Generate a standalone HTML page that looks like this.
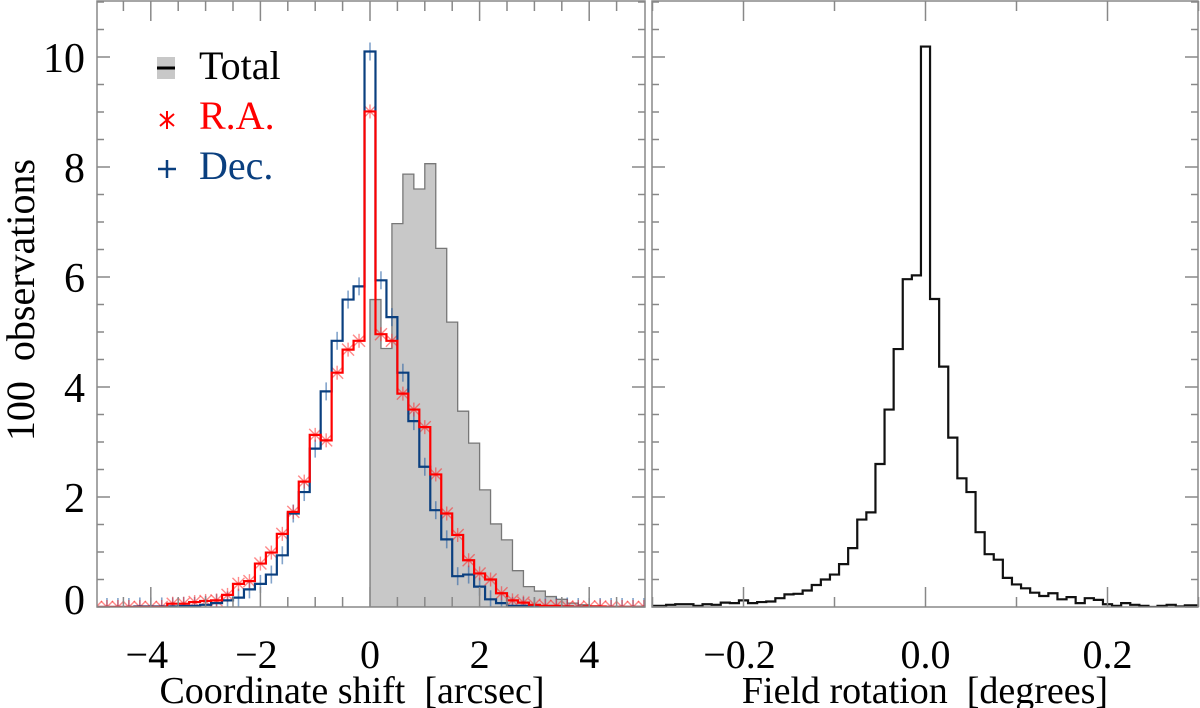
<!DOCTYPE html>
<html><head><meta charset="utf-8"><style>
html,body{margin:0;padding:0;background:#fff;width:1200px;height:708px;overflow:hidden}
svg{display:block;font-family:"Liberation Serif",serif}
</style></head><body>
<svg id="chart" width="1200" height="708" viewBox="0 0 1200 708" xmlns="http://www.w3.org/2000/svg">
<defs><clipPath id="clipL"><rect x="97" y="1" width="548" height="606"/></clipPath>
<clipPath id="clipR"><rect x="652" y="1" width="546" height="606"/></clipPath></defs>
<g id="gL" clip-path="url(#clipL)"></g>
<g id="gR" clip-path="url(#clipR)"></g>
<g id="axes"></g>
<g>
  <rect x="157" y="57" width="18" height="22" fill="#c8c8c8"/>
  <line x1="157" y1="68" x2="175" y2="68" stroke="#000" stroke-width="3"/>
  <text x="199" y="79" font-size="40" fill="#000">Total</text>
  <g stroke="#ff0000" stroke-width="2">
    <line x1="160" y1="114" x2="174" y2="126"/><line x1="174" y1="114" x2="160" y2="126"/><line x1="167" y1="111" x2="167" y2="129"/></g>
  <text x="199" y="129" font-size="40" fill="#ff0000">R.A.</text>
  <g stroke="#0a3f7f" stroke-width="2.5">
    <line x1="158" y1="169" x2="176" y2="169"/><line x1="167" y1="160" x2="167" y2="178"/></g>
  <text x="199" y="179" font-size="40" fill="#0a3f7f">Dec.</text>
</g>
<text x="352" y="703" font-size="38" text-anchor="middle" xml:space="preserve">Coordinate shift  [arcsec]</text>
<text x="925" y="703" font-size="38" text-anchor="middle" xml:space="preserve">Field rotation  [degrees]</text>
<text transform="translate(34,300) rotate(-90)" font-size="40" text-anchor="middle" xml:space="preserve">100  observations</text>
</svg>
<script>
// Left panel: bins of width 0.2 centred on -5.0 ... 5.0
const leftBinStart = -5.1;
const leftBinWidth = 0.2;
const raValues = [0,0,0,0,0,0,0,
 0.06,0.06,0.09,0.11,0.12,0.22,0.42,0.47,0.79,0.99,1.33,1.73,2.28,3.13,3.03,4.26,4.68,4.84,
 9.01,
 4.96,4.84,3.88,3.59,3.27,2.41,1.70,1.31,0.85,0.61,0.50,0.25,0.12,0.08,0.04,0.02,0.02,0.01,0,0.01,0.01,0,0,0,0];
const decValues = [0,0,0,0,0.01,0.01,0.01,
 0.01,0.02,0.02,0.04,0.07,0.12,0.17,0.32,0.42,0.59,0.94,1.70,2.09,2.88,3.92,4.84,5.59,5.83,
 10.1,
 5.94,5.27,4.26,3.38,2.55,1.76,1.23,0.56,0.59,0.37,0.14,0.07,0.02,0.02,0.01,0.01,0.01,0.01,0,0,0,0,0,0,0];
// Total: bins of width 0.2 starting at 0
const totalBinStart = 0;
const totalValues = [5.59,4.70,6.97,7.87,7.60,8.06,6.52,5.18,3.56,2.98,2.13,1.51,1.22,0.66,0.37,0.29,0.19,0.14,0.07,0.04,0.02,0.01,0.01,0.01,0.01];
// Right panel: bins of width 0.01 centred on -0.30 ... 0.30
const rotBinStart = -0.305;
const rotBinWidth = 0.01;
const rotValues = [0.02,0.02,0.04,0.05,0.05,0.02,0.05,0.04,0.08,0.07,0.12,0.07,0.09,0.10,0.16,0.23,0.24,0.30,0.40,0.50,0.59,0.78,1.07,1.59,1.72,2.60,3.59,4.69,5.96,6.03,
 10.19,
 5.60,4.37,3.08,2.34,2.09,1.36,0.96,0.86,0.53,0.41,0.34,0.26,0.20,0.25,0.14,0.18,0.07,0.16,0.13,0.05,0.02,0.07,0.04,0.02,0.0,0.02,0.04,0.01,0.03,0.03];
const yTicks = [0,2,4,6,8,10];
const xTicksLeft = [-4,-2,0,2,4];
const xTicksRight = [-0.2,0.0,0.2];
const xTickLabelsRight = ["\u22120.2","0.0","0.2"];

const NS="http://www.w3.org/2000/svg";
const Y0=607, YS=55;
function y(v){return Y0-v*YS;}
function xL(v){return 370+v*54.8;}
function xR(v){return 925.5+v*910;}
function mk(tag,attrs,parent){const e=document.createElementNS(NS,tag);for(const k in attrs)e.setAttribute(k,attrs[k]);parent.appendChild(e);return e;}
function stepPath(vals,start,w,xf){
  let d="M"+xf(start)+","+Y0;
  vals.forEach((v,i)=>{const a=xf(start+i*w),b=xf(start+(i+1)*w);d+=" L"+a+","+y(v)+" L"+b+","+y(v);});
  d+=" L"+xf(start+vals.length*w)+","+Y0;return d;
}
const gL=document.getElementById('gL'), gR=document.getElementById('gR'), ax=document.getElementById('axes');

const tot=mk('path',{d:stepPath(totalValues,totalBinStart,leftBinWidth,xL)+" Z",fill:"#c8c8c8",stroke:"#777","stroke-width":1.3},gL);



decValues.forEach((v,i)=>{const cx=xL(leftBinStart+(i+0.5)*leftBinWidth),cy=y(v);
  const g=mk('g',{stroke:"rgba(30,90,160,0.55)","stroke-width":1.6},gL);
  
  
  mk('line',{x1:cx,y1:cy-9,x2:cx,y2:cy+9},g);mk('line',{x1:cx-5,y1:cy,x2:cx+5,y2:cy},g);});
raValues.forEach((v,i)=>{const cx=xL(leftBinStart+(i+0.5)*leftBinWidth),cy=y(v);
  const g=mk('g',{stroke:"rgba(255,40,40,0.55)","stroke-width":1.4},gL);
  
  
  mk('line',{x1:cx-6,y1:cy-6,x2:cx+6,y2:cy+6},g);mk('line',{x1:cx+6,y1:cy-6,x2:cx-6,y2:cy+6},g);mk('line',{x1:cx,y1:cy-7,x2:cx,y2:cy+7},g);});

const dec=mk('path',{d:stepPath(decValues,leftBinStart,leftBinWidth,xL),fill:"none",stroke:"#0a3f7f","stroke-width":2.2},gL);


const ra=mk('path',{d:stepPath(raValues,leftBinStart,leftBinWidth,xL),fill:"none",stroke:"#ff0000","stroke-width":2.2},gL);


const rot=mk('path',{d:stepPath(rotValues,rotBinStart,rotBinWidth,xR),fill:"none",stroke:"#111","stroke-width":2.2},gR);



[[97,645],[652,1198]].forEach((p,k)=>{const r=mk('rect',{x:p[0],y:1,width:p[1]-p[0],height:606,fill:"none",stroke:"#888","stroke-width":1.5},ax);
  
  });
const tk={stroke:"#888","stroke-width":1.5};
for(let v=0;v<=11;v+=0.5){const yy=y(v),maj=(v%2===0)?13:7;
  [97,652].forEach(x=>mk('line',Object.assign({x1:x,y1:yy,x2:x+maj,y2:yy},tk),ax));
  [645,1198].forEach(x=>mk('line',Object.assign({x1:x,y1:yy,x2:x-maj,y2:yy},tk),ax));}
for(let v=-4.5;v<=4.5;v+=0.5){const xx=xL(v),maj=(v%2===0)?20:10;
  mk('line',Object.assign({x1:xx,y1:607,x2:xx,y2:607-maj},tk),ax);mk('line',Object.assign({x1:xx,y1:1,x2:xx,y2:1+maj},tk),ax);}
[-0.3,-0.2,-0.1,0,0.1,0.2,0.3].forEach(v=>{const xx=xR(v),maj=(Math.abs(Math.round(v*10))%2===0)?20:10;
  mk('line',Object.assign({x1:xx,y1:607,x2:xx,y2:607-maj},tk),ax);mk('line',Object.assign({x1:xx,y1:1,x2:xx,y2:1+maj},tk),ax);});
yTicks.forEach(v=>{const t=mk('text',{x:85,y:y(v)+15-(v===0?8:0),"font-size":42,"text-anchor":"end"},ax);t.textContent=String(v);
  
  });
xTicksLeft.forEach(v=>{const t=mk('text',{x:xL(v)-(v<0?4:0),y:668,"font-size":40,"text-anchor":"middle"},ax);t.textContent=(v<0?"\u2212":"")+Math.abs(v);
  
  });
xTicksRight.forEach((v,i)=>{const t=mk('text',{x:xR(v)-(v<0?4:0),y:668,"font-size":40,"text-anchor":"middle"},ax);t.textContent=xTickLabelsRight[i];
  
  });
</script>
</body></html>
